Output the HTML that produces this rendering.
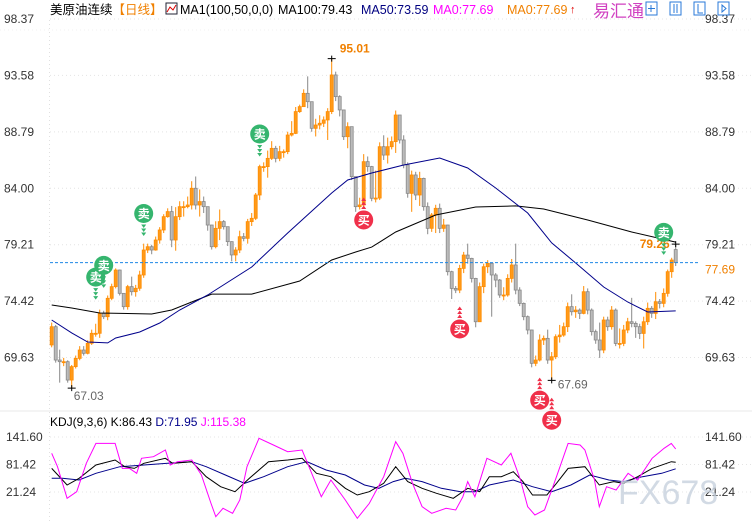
<!DOCTYPE html>
<html><head><meta charset="utf-8">
<style>
html,body{margin:0;padding:0;background:#fff;}
body{width:752px;height:524px;overflow:hidden;position:relative;font-family:"Liberation Sans","Noto Sans CJK SC",sans-serif;}
svg{position:absolute;left:0;top:0;}
</style></head>
<body>
<svg id="chart" width="752" height="524">
  <g id="grid"></g>
  <g id="axes"></g>
  <g id="candles"></g>
  <g id="mas"></g>
  <g id="kdj"></g>
  <g id="signals"></g>
  <g id="legend">
    <text x="50" y="14" font-size="12.5" fill="#000">美原油连续<tspan fill="#f08000">【日线】</tspan></text>
    <rect x="166" y="3" width="11" height="11" fill="#fff" stroke="#223" stroke-width="1"/>
    <polyline points="167,12 170,7 173,10 176,5" fill="none" stroke="#d00" stroke-width="1"/>
    <text x="180" y="14" font-size="12.5" fill="#000">MA1(100,50,0,0)</text>
    <text x="278" y="14" font-size="12.5" fill="#000">MA100:79.43</text>
    <text x="361" y="14" font-size="12.5" fill="#000080">MA50:73.59</text>
    <text x="433" y="14" font-size="12.5" fill="#ff00ff">MA0:77.69</text>
    <text x="507" y="14" font-size="12.5" fill="#f08000">MA0:77.69</text>
    <text x="570" y="13" font-size="11" fill="#e00000">↑</text>
    <text x="593" y="17" font-size="17" fill="#d040c0">易汇通</text>
    <g>
      <rect x="646" y="2" width="11" height="13" fill="#fff" stroke="#2a7ad8"/>
      <rect x="670" y="2" width="11" height="13" fill="#fff" stroke="#2a7ad8"/>
      <rect x="694" y="2" width="11" height="13" fill="#fff" stroke="#2a7ad8"/>
      <rect x="718" y="2" width="11" height="13" fill="#fff" stroke="#2a7ad8"/>
      <path d="M651,5v7M648,8.5h7M674,4v9M677,4v9M698,4v9h5M722,5v7l4,-3.5z" stroke="#2a7ad8" fill="none"/>
    </g>
  </g>
  <text x="618" y="504" font-size="34" fill="#c8d2de" opacity="0.8">FX678</text>
</svg>
<script>
// ---- price data ----
const closes=[72.25,69.42,69.28,69.28,67.72,68.86,69.56,70.27,69.99,70.84,71.69,71.69,73.38,73.10,74.66,75.65,77.06,75.08,73.95,75.65,75.22,75.51,76.64,78.76,79.04,78.76,79.61,80.46,81.59,82.02,79.61,81.59,82.44,82.44,82.58,84.00,82.58,82.87,82.44,80.88,79.04,80.60,81.17,80.74,79.47,78.34,78.76,79.89,79.75,81.17,81.45,83.43,85.84,85.84,86.54,87.39,86.54,87.11,87.11,88.52,88.66,90.51,90.93,92.06,91.35,89.09,89.37,89.52,89.80,90.51,93.62,91.78,90.65,88.38,89.23,84.99,82.44,82.58,86.26,85.84,83.15,83.17,87.53,86.82,87.53,87.96,90.22,88.10,85.98,83.57,85.13,83.43,84.84,82.44,80.60,81.73,82.30,80.60,80.88,76.92,75.50,75.36,77.20,78.33,78.05,76.35,72.67,75.65,77.34,77.63,76.64,76.21,74.94,74.94,76.35,77.49,75.36,74.23,73.10,71.97,69.14,69.42,71.12,71.26,69.42,69.70,71.40,71.54,72.25,73.95,73.52,73.66,73.38,75.22,73.66,71.83,71.12,70.27,72.82,72.25,73.66,70.83,70.83,71.97,72.67,72.53,72.25,71.68,72.67,73.81,73.38,74.37,74.23,75.08,76.92,77.91,77.69];
const highs=[72.6,72.4,70.3,69.6,69.4,69.0,69.8,70.6,70.6,71.1,72.0,72.5,73.7,73.6,74.9,75.9,77.2,77.1,75.0,75.8,76.5,75.8,77.0,79.3,79.3,79.2,79.9,80.7,81.8,82.3,82.5,82.4,82.9,82.9,83.3,84.6,85.0,83.9,83.3,82.4,80.9,81.2,82.2,81.3,80.4,79.5,79.0,80.4,80.2,81.4,81.9,83.6,86.0,86.2,87.2,88.0,87.6,87.6,87.3,88.8,89.7,90.9,91.1,92.4,93.5,91.0,89.9,90.2,90.1,90.8,95.01,93.9,91.9,90.6,89.6,89.2,84.9,83.2,86.9,86.7,85.9,85.5,87.9,88.5,88.3,88.4,90.6,89.9,88.5,86.2,85.5,85.4,85.4,84.9,82.8,81.9,82.6,82.7,81.4,80.9,77.0,75.7,77.5,78.6,79.3,78.1,76.4,76.0,77.6,77.9,77.7,76.8,76.3,75.6,76.7,78.0,79.3,75.6,74.3,73.2,72.0,69.8,71.6,71.5,72.0,70.1,71.6,72.4,72.6,74.3,75.0,74.0,73.8,75.7,75.5,73.8,72.0,72.6,73.1,73.1,74.0,73.8,72.1,72.4,73.0,74.7,72.7,72.5,73.1,74.3,74.0,75.2,74.6,75.5,77.1,78.1,79.26];
const lows=[70.5,69.2,67.5,68.9,67.5,67.03,68.7,69.4,69.8,69.9,70.7,71.4,71.3,72.9,72.8,74.5,75.5,74.9,73.7,73.7,74.9,74.8,75.3,76.4,78.5,78.4,78.7,79.3,80.2,81.5,79.0,78.7,81.3,81.6,82.3,82.2,82.2,81.6,81.9,80.4,78.8,78.9,79.6,80.5,79.1,77.8,77.8,78.5,79.5,79.3,80.8,81.3,83.0,85.4,84.9,86.4,86.2,86.3,86.6,86.9,88.4,88.6,90.4,90.9,90.8,88.8,88.4,89.0,89.2,88.1,90.3,91.4,90.1,88.1,87.4,84.7,82.0,82.2,82.5,85.4,82.9,82.8,83.0,86.4,86.1,87.3,87.0,87.8,85.7,83.2,82.0,83.0,82.5,82.1,80.1,80.3,80.2,80.2,80.3,76.6,74.6,75.1,75.1,76.8,77.6,76.0,72.2,72.7,75.1,76.8,73.1,75.6,74.7,74.5,74.8,76.0,75.0,74.0,72.8,71.6,68.8,68.9,69.3,70.7,69.1,67.69,69.5,70.9,71.4,71.8,73.2,73.0,72.9,73.3,73.3,71.5,70.8,69.6,70.0,71.9,72.0,70.6,70.4,70.6,71.7,72.2,71.3,71.2,70.4,72.4,73.0,72.9,73.8,73.9,74.8,76.4,77.4];
const firstOpen=70.7;
const lastOpen=78.8;
// ---- moving averages (candle index, value) ----
const ma50Idx=[0,5,9,14,16,22,27,32,39,50,59,70,74,80,88,97,104,111,119,125,131,138,144,149,156];
const ma50Val=[72.82,71.72,70.95,70.87,71.29,71.80,72.56,73.67,74.94,77.32,80.20,83.60,84.70,85.30,85.98,86.57,85.72,84.02,81.90,79.36,77.66,75.62,74.35,73.50,73.59];
const ma100Idx=[0,5,12,25,30,35,40,50,62,70,76,80,86,96,106,116,123,134,145,156];
const ma100Val=[74.09,73.84,73.41,73.33,73.67,74.35,75.02,75.02,76.13,77.91,78.59,79.01,80.29,81.73,82.41,82.50,82.24,81.31,80.29,79.43];
// ---- KDJ ----
const kIdx=[0,3.86,6.85,11.05,15.85,18.24,20.64,23.04,28.43,30.23,35.03,38.63,42.22,45.82,49.42,54.21,59.01,62.61,66.2,69.8,73.4,76.4,79.4,83,86,89,92.6,96.2,100.4,104,107,109.4,112.4,115.4,117.8,120.2,123.8,126.2,129.1,133.3,136.9,140.5,142.9,146.5,150.1,154.9,156];
const kVal=[73,36.6,51.2,80.3,91.3,76.7,73,84,94.9,84,87.6,54.8,32.9,22,51.2,87.6,91.3,94.9,62.1,54.8,29.3,14.7,22,40.2,76.7,43.9,29.3,18.3,7.4,29.3,22,54.8,54.8,65.7,43.9,14.7,14.7,40.2,73,76.7,36.6,43.9,40.2,54.8,73,87.6,86.43];
const dIdx=[0,2.66,6.85,11.05,17.04,23.04,29.03,35.03,38.63,43.42,48.22,53,59.01,63.8,68.6,73.4,78.2,81.8,85.4,88.4,92.6,97.4,102.2,105.8,109.4,115.4,120.2,125,129.8,134.5,139.3,142.9,147.7,152.5,156];
const dVal=[51.2,51.2,47.5,62.1,76.7,80.3,84,87.6,76.7,58.4,40.2,54.8,76.7,87.6,69.4,58.4,36.6,29.3,43.9,51.2,43.9,29.3,22,22,36.6,47.5,32.9,22,36.6,58.4,47.5,43.9,54.8,62.1,71.95];
const jIdx=[0,1.46,3.86,6.25,8.65,11.05,15.85,17.64,19.44,21.24,22.44,25.44,28.43,29.63,31.43,35.03,37.43,39.83,41.03,42.82,45.22,47.02,48.82,51.82,55.42,59.01,62.61,65,67.4,69.8,73.4,76.4,79.4,83,86,87.8,90.2,92.6,95,98.6,101,102.8,104,105.8,108.8,112.4,114.8,117.2,119,120.8,123.2,126.2,129.1,132.1,133.3,135.7,136.9,138.7,141.1,144.1,146.5,150.1,153.1,154.9,156];
const jVal=[105.9,76.7,7.4,21.9,84,127.7,127.7,73,73,62.1,94.9,98.6,113.2,80.3,87.6,91.3,58.4,-3.6,-32.7,-14.5,-25.4,3.7,76.7,138.7,124.1,109.5,113.2,62.1,11,47.5,3.7,-36.4,-3.6,54.8,131.4,105.9,40.2,-10.9,-25.4,-14.5,-18.1,11,43.9,11,94.9,80.3,105.9,47.5,-10.9,-29.1,-18.1,54.8,127.7,124.1,113.2,47.5,-10.9,32.9,25.6,62.1,47.5,94.9,116.8,127.7,115.38];
// ---- axes ticks ----
const priceTicks=["98.37","93.58","88.79","84.00","79.21","74.42","69.63"];
const kdjTicks=["141.60","81.42","21.24"];
// signals: candle index, price anchor
const sellIdx=[11,13,23,52,153];
const sellPrice=[75.1,76.1,80.5,87.25,78.9];
const buyIdx=[78,102,122,125];
const buyPrice=[82.5,73.24,67.2,65.5];

const NS='http://www.w3.org/2000/svg';
function X(i){return 51.7+4*i;}
function Y(p){return 19+(98.37-p)*11.78;}
function KY(v){return 437+(141.6-v)*0.457;}
function mk(tag,attrs,parent){const e=document.createElementNS(NS,tag);for(const k in attrs)e.setAttribute(k,attrs[k]);parent.appendChild(e);return e;}

const grid=document.getElementById('grid'),axes=document.getElementById('axes');
priceTicks.forEach(t=>{
  const y=Y(parseFloat(t));
  const l=mk('line',{x1:50,x2:752,y1:y,y2:y,stroke:'#e4e4e4','stroke-dasharray':'1,3'},grid);
  
  
  const a=mk('text',{x:4,y:y+4,'font-size':12,fill:'#333'},axes);a.textContent=t;
  
  
  const b=mk('text',{x:705,y:y+4,'font-size':12,fill:'#333'},axes);b.textContent=t;
  
  
});
kdjTicks.forEach(t=>{
  const y=KY(parseFloat(t));
  const l=mk('line',{x1:50,x2:752,y1:y,y2:y,stroke:'#e4e4e4','stroke-dasharray':'1,3'},grid);
  
  
  const a=mk('text',{x:6,y:y+4,'font-size':12,fill:'#333'},axes);a.textContent=t;
  
  
  const b=mk('text',{x:705,y:y+4,'font-size':12,fill:'#333'},axes);b.textContent=t;
  
  
});
mk('line',{x1:49.5,x2:49.5,y1:20,y2:524,stroke:'#e0e0e0','stroke-dasharray':'1,3'},grid);
mk('line',{x1:0,x2:752,y1:411,y2:411,stroke:'#e8e8e8'},grid);
mk('line',{x1:0,x2:752,y1:30,y2:30,stroke:'#f0f0f0','stroke-dasharray':'1,3'},grid);

// candles
const cg=document.getElementById('candles');
closes.forEach((c,i)=>{
  let o=i===0?firstOpen:(i===closes.length-1?lastOpen:closes[i-1]);
  const up=c>=o, col=up?'#ff8c00':'#888';
  const x=X(i);
  const w=mk('line',{x1:x,x2:x,y1:Y(highs[i]),y2:Y(lows[i]),stroke:col,'stroke-width':1},cg);
  
  
  const top=Y(Math.max(o,c)),bot=Y(Math.min(o,c));
  const r=mk('rect',{x:x-1.5,y:top,width:3,height:Math.max(1,bot-top),fill:up?'#ff9a1a':'#bbb',stroke:col,'stroke-width':0.8},cg);
  
  
});
// MA lines
const mg=document.getElementById('mas');
function line(idx,val,fx,fy,color,name,parent,w){
  const pts=idx.map((d,k)=>fx(d).toFixed(1)+','+fy(val[k]).toFixed(1)).join(' ');
  const p=mk('polyline',{points:pts,fill:'none',stroke:color,'stroke-width':w||1},parent);
  
  
}
line(ma100Idx,ma100Val,X,Y,'#000','ma100-line',mg);
line(ma50Idx,ma50Val,X,Y,'#00008b','ma50-line',mg);
// current price line
const cp=closes[closes.length-1];
const dl=mk('line',{x1:50,x2:700,y1:Y(cp),y2:Y(cp),stroke:'#1e88e5','stroke-dasharray':'3,2'},mg);


const cpl=mk('text',{x:705,y:Y(cp)+11,'font-size':12,fill:'#f08000'},mg);cpl.textContent=cp.toFixed(2);


// high/low annotations
function ann(i,p,txt,col,dx,dy,bold){
  const x=X(i),y=Y(p);
  mk('path',{d:`M${x-4},${y}h8M${x},${y-3}v6`,stroke:'#000','stroke-width':1},mg);
  const t=mk('text',{x:x+dx,y:y+dy,'font-size':12,fill:col,'font-weight':bold?'bold':'normal'},mg);t.textContent=txt;
  
  
}
ann(70,highs[70],'95.01','#f08000',8,-6,true);
ann(5,lows[5],'67.03','#666',2,12,false);
ann(125,lows[125],'67.69','#666',6,8,false);
ann(156,highs[156],'79.26','#f08000',-36,4,true);

// KDJ
const kg=document.getElementById('kdj');
line(dIdx,dVal,X,KY,'#00008b','kdj-d-line',kg);
line(kIdx,kVal,X,KY,'#000','kdj-k-line',kg);
line(jIdx,jVal,X,KY,'#ff00ff','kdj-j-line',kg);
const kt=mk('text',{x:50,y:426,'font-size':12,fill:'#000'},kg);
kt.innerHTML='KDJ(9,3,6) K:86.43 <tspan fill="#00008b">D:71.95</tspan> <tspan fill="#ff00ff">J:115.38</tspan>';



// signals
const sg=document.getElementById('signals');
function sig(i,p,buy){
  const x=X(i),y=Y(p);
  const col=buy?'#f0304a':'#35b56e';
  const cy=buy?y+14:y-16;
  const c=mk('circle',{cx:x,cy:cy,r:9.5,fill:col},sg);
  
  
  const t=mk('text',{x:x,y:cy+4.5,'font-size':12,fill:'#fff','text-anchor':'middle','font-weight':'bold'},sg);
  t.textContent=buy?'买':'卖';
  for(let k=0;k<3;k++){
    const ty=buy?cy-13-k*4:cy+12+k*4;
    const d=buy?`M${x-2.5},${ty+2}L${x+2.5},${ty+2}L${x},${ty-1.5}z`:`M${x-2.5},${ty-1}L${x+2.5},${ty-1}L${x},${ty+2.5}z`;
    mk('path',{d:d,fill:col},sg);
  }
}
sellIdx.forEach((d,k)=>sig(d,sellPrice[k],false));
buyIdx.forEach((d,k)=>sig(d,buyPrice[k],true));
</script>
</body></html>
